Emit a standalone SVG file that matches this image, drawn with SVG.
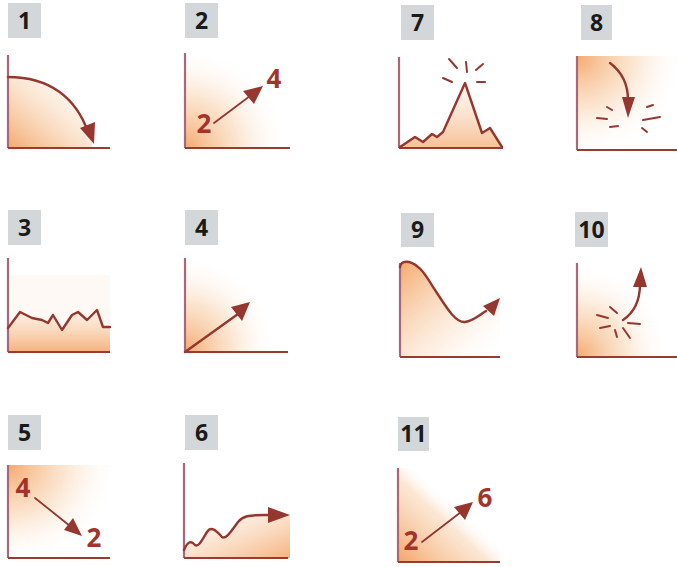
<svg xmlns="http://www.w3.org/2000/svg" width="677" height="567" viewBox="0 0 677 567">
<style>
.box{fill:#d4d7d9}
.num{font-family:"Open Sans","Liberation Sans",sans-serif;font-weight:bold;font-size:23px;fill:#1a1a1a;text-anchor:middle}
.val{font-family:"Open Sans","Liberation Sans",sans-serif;font-weight:bold;font-size:26px;fill:#a3342c;text-anchor:middle}
.ax{stroke:#9b3a30;stroke-width:2.2;fill:none}
.axv{stroke:#a8687a;stroke-width:2.2;fill:none}
.ln{stroke:#96372f;stroke-width:2.4;fill:none;stroke-linecap:round;stroke-linejoin:round}
.thin{stroke:#96372f;stroke-width:1.8;fill:none;stroke-linecap:round}
.burst{stroke:#96372f;stroke-width:2;fill:none;stroke-linecap:round}
.head{fill:#96372f}
</style>
<defs>
<linearGradient id="gBL" x1="0" y1="1" x2="1" y2="0">
<stop offset="0" stop-color="#f39f5e" stop-opacity="0.9"/>
<stop offset="0.65" stop-color="#f9d3b0" stop-opacity="0.35"/>
<stop offset="1" stop-color="#ffffff" stop-opacity="0"/>
</linearGradient>
<linearGradient id="gTL" x1="0" y1="0" x2="1" y2="1">
<stop offset="0" stop-color="#f39f5e" stop-opacity="0.9"/>
<stop offset="0.65" stop-color="#f9d3b0" stop-opacity="0.3"/>
<stop offset="1" stop-color="#ffffff" stop-opacity="0"/>
</linearGradient>
<linearGradient id="gV" x1="0" y1="1" x2="0" y2="0">
<stop offset="0" stop-color="#f3a468" stop-opacity="0.85"/>
<stop offset="1" stop-color="#fbe0c6" stop-opacity="0.35"/>
</linearGradient>
<linearGradient id="gR" x1="1" y1="1" x2="0" y2="0">
<stop offset="0" stop-color="#f3a468" stop-opacity="0.85"/>
<stop offset="1" stop-color="#fde6d0" stop-opacity="0.2"/>
</linearGradient>
<radialGradient id="rBL" cx="0" cy="1" r="1.1">
<stop offset="0" stop-color="#f39f5e" stop-opacity="0.9"/>
<stop offset="0.5" stop-color="#f7c495" stop-opacity="0.45"/>
<stop offset="1" stop-color="#ffffff" stop-opacity="0"/>
</radialGradient>
<radialGradient id="rTL" cx="0" cy="0" r="1.1">
<stop offset="0" stop-color="#f39f5e" stop-opacity="0.9"/>
<stop offset="0.5" stop-color="#f7c495" stop-opacity="0.45"/>
<stop offset="1" stop-color="#ffffff" stop-opacity="0"/>
</radialGradient>
<linearGradient id="gD" x1="0" y1="1" x2="1" y2="0">
<stop offset="0" stop-color="#f39f5e" stop-opacity="0.95"/>
<stop offset="0.45" stop-color="#f8caa0" stop-opacity="0.45"/>
<stop offset="0.6" stop-color="#ffffff" stop-opacity="0"/>
</linearGradient>
</defs>

<g id="panel1">
<rect class="box" x="8" y="3" width="33" height="35"/>
<text class="num" x="24.5" y="29">1</text>
<path d="M8,77 C52,77 78,100 92,142 L92,148 L8,148 Z" fill="url(#gBL)"/>
<path class="axv" d="M8,55 V148"/>
<path class="ax" d="M8,148 H110"/>
<path class="ln" d="M8,77 C50,77 76,98 88,132"/>
<polygon class="head" points="80,128 95,122 94,144"/>
</g>

<g id="panel2">
<rect class="box" x="185" y="3" width="33" height="35"/>
<text class="num" x="201.5" y="29">2</text>
<rect x="185" y="55" width="95" height="93" fill="url(#rBL)"/>
<path class="axv" d="M185,53 V148"/>
<path class="ax" d="M185,148 H290" stroke="#c8b0aa"/>
<text class="val" x="204" y="133">2</text>
<text class="val" x="274" y="88">4</text>
<path class="thin" d="M214,123 L250,96"/>
<polygon class="head" points="263,86 254,104 243,91"/>
</g>

<g id="panel7">
<rect class="box" x="401" y="5" width="33" height="35"/>
<text class="num" x="417.5" y="31">7</text>
<path d="M400,147 L415,137 L423,142 L432,134 L437,137 L443,132 L465,83 L482,133 L490,128 L502,147 Z" fill="url(#gV)" opacity="0.8"/>
<path class="axv" d="M399,57 V148"/>
<path class="ax" d="M399,148 H503"/>
<path class="ln" d="M400,147 L415,137 L423,142 L432,134 L437,137 L443,132 L465,83 L482,133 L490,128 L502,147"/>
<path class="burst" d="M449,59 L457,68 M466,62 L467,72 M476,70 L483,64 M443,78 L452,82 M477,82 L485,82"/>
</g>

<g id="panel8">
<rect class="box" x="581" y="5" width="31" height="35"/>
<text class="num" x="596.5" y="31">8</text>
<rect x="577" y="56" width="100" height="94" fill="url(#rTL)"/>
<path class="axv" d="M577,56 V150"/>
<path class="ax" d="M577,150 H677"/>
<path class="ln" d="M610,63 C622,72 628,85 628,100"/>
<polygon class="head" points="622,97 635,97 628,118"/>
<path class="burst" d="M607,107 L612,110 M597,118 L607,119 M610,127 L618,126 M647,107 L653,105 M643,120 L660,117 M642,128 L647,132"/>
</g>

<g id="panel3">
<rect class="box" x="8" y="210" width="33" height="35"/>
<text class="num" x="24.5" y="236">3</text>
<rect x="8" y="275" width="102" height="77" fill="#fdf3ea" opacity="0.5"/>
<path d="M8,328 L20,312 L32,318 L42,320 L48,323 L53,315 L62,330 L72,315 L78,312 L87,320 L97,310 L103,327 L110,327 L110,352 L8,352 Z" fill="url(#gV)"/>
<path class="axv" d="M8,258 V352"/>
<path class="ax" d="M8,352 H110"/>
<path class="ln" d="M8,328 L20,312 L32,318 L42,320 L48,323 L53,315 L62,330 L72,315 L78,312 L87,320 L97,310 L103,327 L110,327"/>
</g>

<g id="panel4">
<rect class="box" x="185" y="210" width="33" height="35"/>
<text class="num" x="201.5" y="236">4</text>
<rect x="185" y="262" width="85" height="90" fill="url(#rBL)"/>
<path class="axv" d="M185,258 V352"/>
<path class="ax" d="M185,352 H288"/>
<path class="ln" d="M185,352 L238,314"/>
<polygon class="head" points="250,302 242,321 231,307"/>
</g>

<g id="panel9">
<rect class="box" x="401" y="213" width="33" height="34"/>
<text class="num" x="417.5" y="238">9</text>
<path d="M400,267 C401,260 410,260 418,267 C425,272 428,280 435,290 C445,305 455,323 465,322 C473,321 478,316 488,308 L500,298 L500,357 L400,357 Z" fill="url(#gTL)"/>
<path class="axv" d="M400,263 V357"/>
<path class="ax" d="M400,357 H500"/>
<path class="ln" d="M400,267 C401,260 410,260 418,267 C425,272 428,280 435,290 C445,305 455,323 465,322 C473,321 478,316 486,311"/>
<polygon class="head" points="500,298 494,316 483,306"/>
</g>

<g id="panel10">
<rect class="box" x="575" y="212" width="33" height="35"/>
<text class="num" x="591.5" y="238">10</text>
<rect x="577" y="270" width="85" height="87" fill="url(#rBL)"/>
<path class="axv" d="M577,263 V357"/>
<path class="ax" d="M577,357 H677"/>
<path class="ln" d="M623,320 C635,312 640,300 640,284"/>
<polygon class="head" points="633,287 647,287 641,267"/>
<path class="burst" d="M597,315 L608,318 M610,307 L617,313 M600,328 L610,326 M615,330 L617,337 M623,328 L630,338 M628,323 L640,324"/>
</g>

<g id="panel5">
<rect class="box" x="8" y="415" width="33" height="35"/>
<text class="num" x="24.5" y="441">5</text>
<rect x="8" y="465" width="102" height="93" fill="url(#rTL)"/>
<path class="axv" d="M8,465 V558"/>
<path class="ax" d="M8,558 H110"/>
<text class="val" x="23" y="497">4</text>
<text class="val" x="94" y="547">2</text>
<path class="thin" d="M35,498 L70,526"/>
<polygon class="head" points="82,536 64,530 73,518"/>
</g>

<g id="panel6">
<rect class="box" x="185" y="415" width="33" height="35"/>
<text class="num" x="201.5" y="441">6</text>
<path d="M184,550 C187,543 190,540 194,544 C198,549 202,540 207,532 C211,526 216,530 222,537 C226,540 232,530 238,522 C243,516 248,515 265,515 L290,515 L290,558 L184,558 Z" fill="url(#gR)"/>
<path class="axv" d="M184,463 V558"/>
<path class="ax" d="M184,558 H288"/>
<path class="ln" d="M184,550 C187,543 190,540 194,544 C198,549 202,540 207,532 C211,526 216,530 222,537 C226,540 232,530 238,522 C243,516 248,515 265,515 L272,515"/>
<polygon class="head" points="290,515 268,507 268,523"/>
</g>

<g id="panel11">
<rect class="box" x="398" y="417" width="31" height="34"/>
<text class="num" x="413.5" y="442">11</text>
<rect x="398" y="468" width="102" height="94" fill="url(#gD)"/>
<path class="axv" d="M398,468 V562"/>
<path class="ax" d="M398,562 H500"/>
<text class="val" x="411" y="550">2</text>
<text class="val" x="485" y="507">6</text>
<path class="thin" d="M422,542 L461,512"/>
<polygon class="head" points="473,502 465,520 454,507"/>
</g>
</svg>
